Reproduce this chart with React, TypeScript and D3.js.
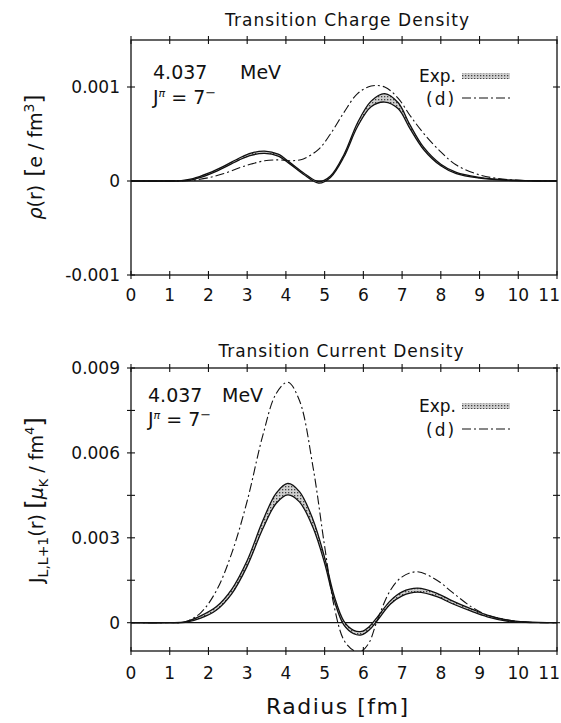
import React from "react";
import * as d3 from "d3";

// ---- data ----
const radiusTop = [0, 1.0, 1.3, 1.6, 2.0, 2.4, 2.8, 3.1, 3.45, 3.8, 4.1, 4.45, 4.85, 5.15, 5.5, 5.85, 6.2, 6.55, 6.9, 7.2, 7.55, 8.0, 8.4, 9.0, 9.6, 10.2, 11];
// charge density, units of 1e-3 e/fm^3
const expCharge = [0, 0, 0.003, 0.02, 0.075, 0.15, 0.235, 0.285, 0.305, 0.275, 0.19, 0.08, -0.015, 0.045, 0.27, 0.6, 0.82, 0.885, 0.8, 0.58, 0.35, 0.17, 0.085, 0.035, 0.012, 0.003, 0];
const expChargeErr = [0, 0, 0.002, 0.005, 0.008, 0.008, 0.01, 0.012, 0.012, 0.01, 0.008, 0.008, 0.008, 0.008, 0.012, 0.02, 0.03, 0.045, 0.032, 0.02, 0.012, 0.008, 0.006, 0.004, 0.002, 0.001, 0];
const modelCharge = [0, 0, 0.0, 0.008, 0.035, 0.08, 0.14, 0.18, 0.215, 0.225, 0.215, 0.235, 0.34, 0.5, 0.73, 0.93, 1.01, 1.0, 0.88, 0.7, 0.51, 0.31, 0.17, 0.065, 0.02, 0.005, 0];

const radiusBot = [0, 1.0, 1.4, 1.8, 2.2, 2.6, 3.0, 3.4, 3.75, 4.05, 4.35, 4.7, 5.0, 5.25, 5.5, 5.75, 5.95, 6.15, 6.35, 6.7, 7.0, 7.4, 7.9, 8.3, 8.8, 9.2, 9.7, 10.2, 11];
// current density, units of 1e-3 mu_K/fm^4
const expCurrent = [0, 0, 0.02, 0.2, 0.5, 1.1, 2.1, 3.45, 4.4, 4.72, 4.45, 3.5, 2.2, 0.85, -0.02, -0.33, -0.37, -0.2, 0.12, 0.72, 1.02, 1.15, 0.98, 0.72, 0.44, 0.24, 0.08, 0.02, 0];
const expCurrentErr = [0, 0, 0.01, 0.04, 0.06, 0.08, 0.1, 0.14, 0.18, 0.2, 0.18, 0.14, 0.1, 0.08, 0.07, 0.06, 0.06, 0.06, 0.06, 0.06, 0.07, 0.07, 0.06, 0.05, 0.04, 0.03, 0.02, 0.01, 0];
const modelCurrent = [0, 0, 0.03, 0.35, 1.12, 2.45, 4.3, 6.6, 8.1, 8.5, 7.85, 5.5, 2.7, 0.55, -0.62, -0.98, -1.0, -0.7, 0.05, 1.15, 1.62, 1.8, 1.5, 1.07, 0.55, 0.27, 0.1, 0.02, 0];

const xTicks = [0, 1, 2, 3, 4, 5, 6, 7, 8, 9, 10, 11];
const xTickLabels = ["0", "1", "2", "3", "4", "5", "6", "7", "8", "9", "10", "11"];
const topYTicks = [-1, 0, 1];
const topYLabels = ["-0.001", "0", "0.001"];
const botYTicks = [0, 1.5, 3, 4.5, 6, 7.5, 9];
const botYLabelValues = [0, 3, 6, 9];
const botYLabels = ["0", "0.003", "0.006", "0.009"];

const FONT = "'DejaVu Sans', sans-serif";

type PanelProps = {
  top: number;
  bottom: number;
  yDomain: [number, number];
  radius: number[];
  exp: number[];
  err: number[];
  model: number[];
  yTicks: number[];
  yLabelVals: number[];
  yLabels: string[];
  rightTicks: number[];
  xLabelY: number;
};

const xScale = d3.scaleLinear().domain([0, 11]).range([131, 557]);

function Panel(p: PanelProps) {
  const y = d3.scaleLinear().domain(p.yDomain).range([p.bottom, p.top]);
  const curve = d3.curveCatmullRom.alpha(0.5);
  const idx = p.radius.map((_, i) => i);
  const line = (vals: number[]) =>
    d3.line<number>().x((i) => xScale(p.radius[i])).y((i) => y(vals[i])).curve(curve)(idx) || "";
  const hi = p.exp.map((v, i) => v + p.err[i]);
  const lo = p.exp.map((v, i) => v - p.err[i]);
  const area =
    d3
      .area<number>()
      .x((i) => xScale(p.radius[i]))
      .y0((i) => y(lo[i]))
      .y1((i) => y(hi[i]))
      .curve(curve)(idx) || "";
  const x0 = xScale(0);
  const x1 = xScale(11);
  const clipId = `clip${p.top}`;
  return (
    <g>
      <clipPath id={clipId}>
        <rect x={x0} y={p.top} width={x1 - x0} height={p.bottom - p.top} />
      </clipPath>
      {/* zero line */}
      <line x1={x0} x2={x1} y1={y(0)} y2={y(0)} stroke="#111" strokeWidth={1.3} />
      <g clipPath={`url(#${clipId})`}>
        <path d={area} fill="url(#stip)" stroke="none" />
        <path d={line(hi)} fill="none" stroke="#111" strokeWidth={1.3} />
        <path d={line(lo)} fill="none" stroke="#111" strokeWidth={1.3} />
        <path d={line(p.model)} fill="none" stroke="#111" strokeWidth={1.1} strokeDasharray="9,3,2,3" />
      </g>
      {/* frame */}
      <rect x={x0} y={p.top} width={x1 - x0} height={p.bottom - p.top} fill="none" stroke="#111" strokeWidth={1.3} />
      {xTicks.map((t) => (
        <g key={"xt" + t}>
          <line x1={xScale(t)} x2={xScale(t)} y1={p.bottom - 4} y2={p.bottom + 4} stroke="#111" strokeWidth={1.1} />
          <line x1={xScale(t)} x2={xScale(t)} y1={p.top - 4} y2={p.top + 4} stroke="#111" strokeWidth={1.1} />
          <text
            x={t === 11 ? 560 : xScale(t)}
            y={p.xLabelY}
            textAnchor={t === 11 ? "end" : "middle"}
            fontFamily={FONT}
            fontSize={17}
            fill="#111"
          >
            {xTickLabels[t]}
          </text>
        </g>
      ))}
      {p.yTicks.map((t) => (
        <line key={"yt" + t} x1={x0 - 4} x2={x0 + 4} y1={y(t)} y2={y(t)} stroke="#111" strokeWidth={1.1} />
      ))}
      {p.rightTicks.map((t) => (
        <line key={"rt" + t} x1={x1 - 4} x2={x1 + 3} y1={y(t)} y2={y(t)} stroke="#111" strokeWidth={1.1} />
      ))}
      {p.yLabelVals.map((t, i) => (
        <text key={"yl" + t} x={x0 - 11} y={y(t) + 6} textAnchor="end" fontFamily={FONT} fontSize={17} fill="#111">
          {p.yLabels[i]}
        </text>
      ))}
    </g>
  );
}

function Legend({ x, yExp, yD }: { x: number; yExp: number; yD: number }) {
  return (
    <g fontFamily={FONT} fontSize={17} fill="#111">
      <text x={x} y={yExp}>Exp.</text>
      <rect x={462} y={yExp - 9} width={48} height={6} fill="url(#stip)" />
      <text x={x + 7} y={yD} letterSpacing={2}>(d)</text>
      <line x1={462} x2={510} y1={yD - 7} y2={yD - 7} stroke="#111" strokeWidth={1.1} strokeDasharray="9,3,2,3" />
    </g>
  );
}

function Annotation({ x, y, meVx, gap }: { x: number; y: number; meVx: number; gap: number }) {
  return (
    <g fontFamily={FONT} fill="#111">
      <text x={x} y={y} fontSize={19}>4.037</text>
      <text x={meVx} y={y} fontSize={19}>MeV</text>
      <text x={x} y={y + gap} fontSize={19}>
        J<tspan dy={-7} fontSize={11} fontStyle="italic">π</tspan>
        <tspan dy={7}>{" = 7"}</tspan>
        <tspan dy={-7} fontSize={13}>−</tspan>
      </text>
    </g>
  );
}

export default function App() {
  return (
    <svg width={561} height={723} style={{ position: "absolute", left: 0, top: 0, background: "#fff" }}>
      <defs>
        <pattern id="stip" width={3} height={3} patternUnits="userSpaceOnUse">
          <rect width={3} height={3} fill="#cfcfcf" />
          <rect width={1.3} height={1.3} fill="#444" />
        </pattern>
      </defs>
      <rect width={561} height={723} fill="#fff" />

      {/* top panel */}
      <text x={347} y={26} textAnchor="middle" fontFamily={FONT} fontSize={17} textLength={244} lengthAdjust="spacing" fill="#111">
        Transition Charge Density
      </text>
      <Panel
        top={40}
        bottom={275}
        yDomain={[-1, 1.5]}
        radius={radiusTop}
        exp={expCharge}
        err={expChargeErr}
        model={modelCharge}
        yTicks={topYTicks}
        yLabelVals={topYTicks}
        yLabels={topYLabels}
        rightTicks={[1]}
        xLabelY={301}
      />
      <Annotation x={153} y={79} meVx={240} gap={25} />
      <Legend x={419} yExp={82} yD={105} />
      <text transform="translate(42,157) rotate(-90)" textAnchor="middle" fontFamily={FONT} fontSize={19} fill="#111">
        <tspan fontStyle="italic">ρ</tspan>(r)
        <tspan dx={8} fontSize={23}>[</tspan>e / fm<tspan dy={-8} fontSize={14}>3</tspan>
        <tspan dy={8} fontSize={23}>]</tspan>
      </text>

      {/* bottom panel */}
      <text x={341} y={357} textAnchor="middle" fontFamily={FONT} fontSize={17} textLength={245} lengthAdjust="spacing" fill="#111">
        Transition Current Density
      </text>
      <Panel
        top={368}
        bottom={651}
        yDomain={[-1, 9]}
        radius={radiusBot}
        exp={expCurrent}
        err={expCurrentErr}
        model={modelCurrent}
        yTicks={botYTicks}
        yLabelVals={botYLabelValues}
        yLabels={botYLabels}
        rightTicks={botYTicks}
        xLabelY={679}
      />
      <Annotation x={148} y={402} meVx={222} gap={24} />
      <Legend x={419} yExp={412} yD={436} />
      <text transform="translate(43,500) rotate(-90)" textAnchor="middle" fontFamily={FONT} fontSize={19} fill="#111">
        J<tspan dy={5} fontSize={14}>L,L+1</tspan>
        <tspan dy={-5}>(r)</tspan>
        <tspan dx={5} fontSize={25}>[</tspan>
        <tspan fontStyle="italic">μ</tspan>
        <tspan dy={5} fontSize={13}>K</tspan>
        <tspan dy={-5}>{" / fm"}</tspan>
        <tspan dy={-9} fontSize={13}>4</tspan>
        <tspan dy={9} fontSize={25}>]</tspan>
      </text>

      <text x={337} y={714} textAnchor="middle" fontFamily={FONT} fontSize={22} textLength={142} lengthAdjust="spacing" fill="#111">
        Radius  [fm]
      </text>
    </svg>
  );
}
